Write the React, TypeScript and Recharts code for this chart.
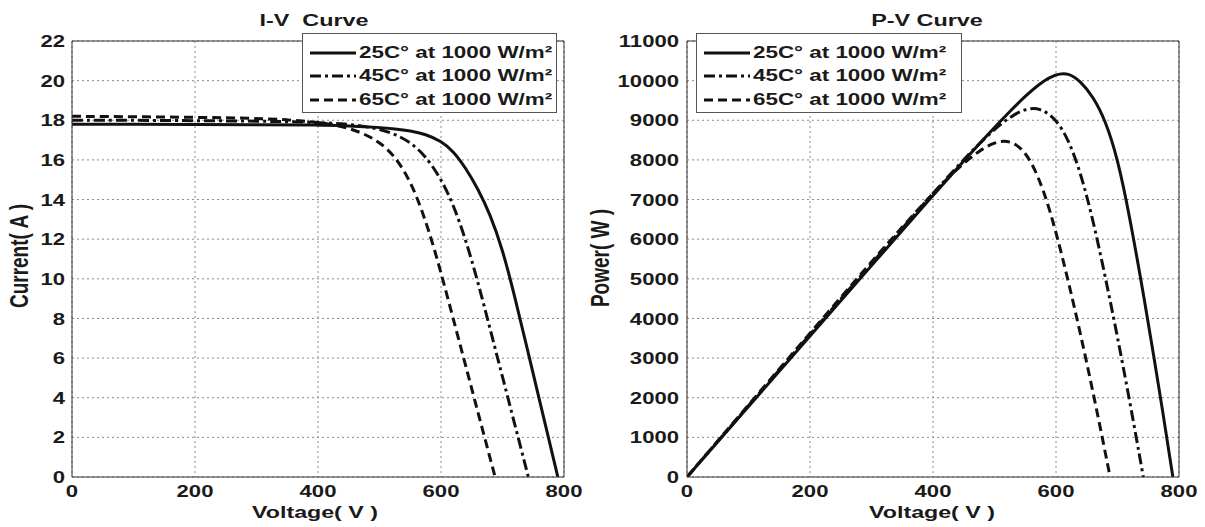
import React from 'react';
import { LineChart, Line, XAxis, YAxis, CartesianGrid, ReferenceLine } from 'recharts';

const FONT = '"Liberation Sans", Arial, Helvetica, sans-serif';
const INK = '#1a1a1a';

// I-V curve (voltage V, current A)
const ivVolt25 = [0, 100, 200, 300, 400, 450, 500, 525, 550, 575, 600, 620, 640, 660, 680, 700, 720, 740, 760, 775, 790];
const ivAmp25 = [17.8, 17.8, 17.79, 17.78, 17.76, 17.72, 17.64, 17.57, 17.47, 17.3, 16.95, 16.45, 15.6, 14.55, 13.25, 11.5, 9.1, 6.5, 3.9, 1.95, 0];
const ivVolt45 = [0, 100, 200, 300, 400, 450, 475, 500, 525, 550, 575, 600, 620, 640, 660, 680, 700, 720, 742];
const ivAmp45 = [18.0, 18.0, 17.98, 17.96, 17.9, 17.8, 17.7, 17.55, 17.3, 16.9, 16.2, 15.05, 13.75, 12.0, 9.85, 7.45, 5.05, 2.65, 0];
const ivVolt65 = [0, 100, 200, 300, 350, 400, 425, 450, 475, 500, 525, 550, 570, 590, 610, 630, 650, 670, 688];
const ivAmp65 = [18.2, 18.18, 18.15, 18.1, 18.03, 17.9, 17.78, 17.6, 17.32, 16.9, 16.2, 14.95, 13.4, 11.45, 9.15, 6.8, 4.45, 2.1, 0];

// P-V curve (voltage V, power W)
const pvVolt25 = [0, 100, 200, 300, 400, 450, 500, 525, 550, 575, 600, 620, 640, 660, 680, 700, 720, 740, 760, 775, 790];
const pvWatt25 = [0, 1780, 3558, 5334, 7104, 7974, 8820, 9224, 9609, 9948, 10170, 10199, 9984, 9603, 9010, 8050, 6552, 4810, 2964, 1511, 0];
const pvVolt45 = [0, 100, 200, 300, 400, 450, 475, 500, 525, 550, 575, 600, 620, 640, 660, 680, 700, 720, 742];
const pvWatt45 = [0, 1800, 3596, 5388, 7160, 8010, 8408, 8775, 9083, 9295, 9315, 9030, 8525, 7680, 6501, 5066, 3535, 1908, 0];
const pvVolt65 = [0, 100, 200, 300, 350, 400, 425, 450, 475, 500, 525, 550, 570, 590, 610, 630, 650, 670, 688];
const pvWatt65 = [0, 1818, 3630, 5430, 6310, 7160, 7557, 7920, 8227, 8450, 8505, 8223, 7638, 6756, 5582, 4284, 2893, 1407, 0];

const voltTicks = [0, 200, 400, 600, 800];
const ampTicks = [0, 2, 4, 6, 8, 10, 12, 14, 16, 18, 20, 22];
const wattTicks = [0, 1000, 2000, 3000, 4000, 5000, 6000, 7000, 8000, 9000, 10000, 11000];

const seriesNames = ['25C° at 1000 W/m²', '45C° at 1000 W/m²', '65C° at 1000 W/m²'];
const dashes = [undefined, '11 4 3 4', '9 5'];

const pairs = (xs: number[], ys: number[]) => xs.map((v, i) => ({ v, y: ys[i] }));

const ivSeries = [pairs(ivVolt25, ivAmp25), pairs(ivVolt45, ivAmp45), pairs(ivVolt65, ivAmp65)];
const pvSeries = [pairs(pvVolt25, pvWatt25), pairs(pvVolt45, pvWatt45), pairs(pvVolt65, pvWatt65)];

// the source figure is stretched sideways, so the text is too
const TICK_SX = 1.3;

const YTick = (props: any) => {
  const { x, y, payload } = props;
  return (
    <text
      transform={`translate(${x},${y}) scale(${TICK_SX},1)`}
      textAnchor="end"
      dy="0.36em"
      fill={INK}
      fontSize={17}
      fontWeight={700}
      fontFamily={FONT}
    >
      {payload.value}
    </text>
  );
};

const XTick = (props: any) => {
  const { x, y, payload } = props;
  return (
    <text
      transform={`translate(${x},${y}) scale(${TICK_SX},1)`}
      textAnchor="middle"
      dy="0.71em"
      fill={INK}
      fontSize={17}
      fontWeight={700}
      fontFamily={FONT}
    >
      {payload.value}
    </text>
  );
};

const LegendBox = ({ left, top, width }: { left: number; top: number; width: number }) => (
  <div
    style={{
      position: 'absolute',
      left,
      top,
      width,
      height: 80,
      background: '#fff',
      border: '1px solid #555',
      boxSizing: 'border-box',
      paddingTop: 7,
    }}
  >
    {seriesNames.map((name, i) => (
      <div key={name} style={{ display: 'flex', alignItems: 'center', height: 23.5 }}>
        <svg width={48} height={10} style={{ marginLeft: 6, flex: 'none' }}>
          <line x1={1} y1={5} x2={47} y2={5} stroke="#111" strokeWidth={3} strokeDasharray={dashes[i]} />
        </svg>
        <span
          style={{
            display: 'inline-block',
            marginLeft: 2,
            fontFamily: FONT,
            fontWeight: 700,
            fontSize: 16,
            color: INK,
            whiteSpace: 'pre',
            transform: 'scaleX(1.4)',
            transformOrigin: 'left center',
          }}
        >
          {name}
        </span>
      </div>
    ))}
  </div>
);

const Label = ({
  text,
  cx,
  cy,
  size,
  sx,
  rotate = false,
}: {
  text: string;
  cx: number;
  cy: number;
  size: number;
  sx: number;
  rotate?: boolean;
}) => (
  <div
    style={{
      position: 'absolute',
      left: cx,
      top: cy,
      transform: `translate(-50%, -50%) scaleX(${sx})${rotate ? ' rotate(-90deg)' : ''}`,
      fontFamily: FONT,
      fontWeight: 700,
      fontSize: size,
      lineHeight: 1,
      color: INK,
      whiteSpace: 'pre',
    }}
  >
    {text}
  </div>
);

const CurvePanel = ({
  series,
  yMax,
  yTicks,
  yWidth,
  yMargin,
  width,
  marginRight,
}: {
  series: { v: number; y: number }[][];
  yMax: number;
  yTicks: number[];
  yWidth: number;
  yMargin: number;
  width: number;
  marginRight: number;
}) => (
  <LineChart width={width} height={527} margin={{ top: 41, right: marginRight, bottom: 0, left: 0 }}>
    <CartesianGrid stroke="#8a8a8a" strokeDasharray="2 3" />
    <XAxis
      type="number"
      dataKey="v"
      domain={[0, 800]}
      ticks={voltTicks}
      height={50}
      tickSize={0}
      tickMargin={8}
      stroke="#333"
      tick={<XTick />}
      allowDataOverflow
    />
    <YAxis
      type="number"
      dataKey="y"
      domain={[0, yMax]}
      ticks={yTicks}
      width={yWidth}
      tickSize={0}
      tickMargin={yMargin}
      stroke="#333"
      tick={<YTick />}
      allowDataOverflow
    />
    <ReferenceLine y={yMax} stroke="#333" />
    <ReferenceLine x={800} stroke="#333" />
    {series.map((d, i) => (
      <Line
        key={i}
        data={d}
        dataKey="y"
        type="basis"
        stroke="#111"
        strokeWidth={3}
        strokeDasharray={dashes[i]}
        dot={false}
        activeDot={false}
        isAnimationActive={false}
      />
    ))}
  </LineChart>
);

export default function App() {
  return (
    <div style={{ position: 'absolute', left: 0, top: 0, width: 1205, height: 527, background: '#fff', overflow: 'hidden' }}>
      <div style={{ position: 'absolute', left: 0, top: 0 }}>
        <CurvePanel series={ivSeries} yMax={22} yTicks={ampTicks} yWidth={72} yMargin={7} width={600} marginRight={36} />
      </div>
      <div style={{ position: 'absolute', left: 600, top: 0 }}>
        <CurvePanel series={pvSeries} yMax={11000} yTicks={wattTicks} yWidth={87} yMargin={8} width={605} marginRight={26} />
      </div>
      <Label text="I-V  Curve" cx={314} cy={21} size={16} sx={1.46} />
      <Label text="P-V Curve" cx={927} cy={21} size={16} sx={1.46} />
      <Label text="Current( A )" cx={19} cy={256} size={19} sx={1.35} rotate />
      <Label text="Power( W )" cx={600} cy={258} size={19} sx={1.35} rotate />
      <Label text="Voltage( V )" cx={315} cy={513} size={16} sx={1.45} />
      <Label text="Voltage( V )" cx={932} cy={513} size={16} sx={1.45} />
      <LegendBox left={302} top={33} width={255} />
      <LegendBox left={696} top={33} width={266} />
    </div>
  );
}
